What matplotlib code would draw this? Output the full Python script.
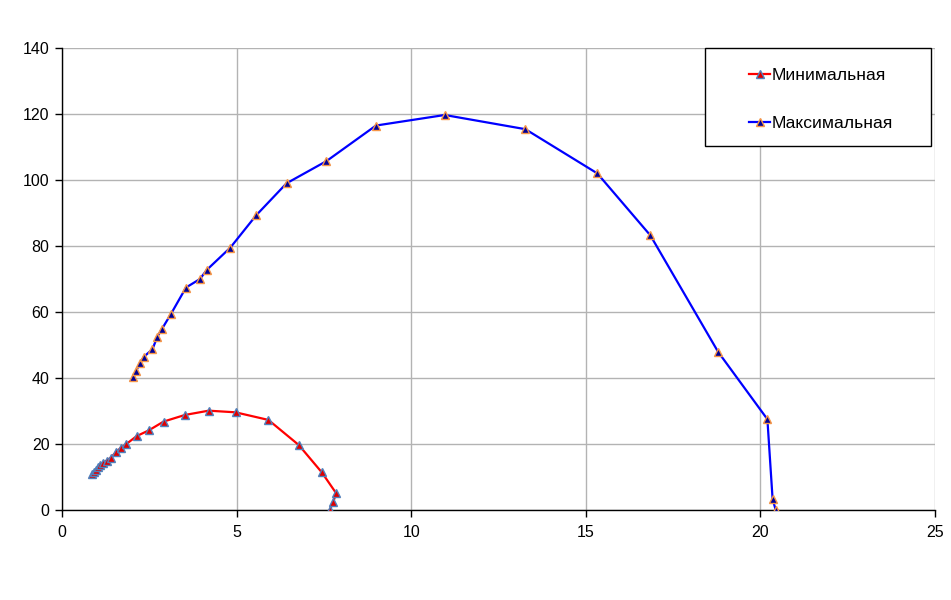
import matplotlib
matplotlib.use("Agg")
import matplotlib.pyplot as plt
from matplotlib.patches import Rectangle

plt.rcParams['font.family'] = ['Liberation Sans', 'DejaVu Sans']

min_x = [0.87, 0.92, 0.97, 1.03, 1.10, 1.18, 1.28, 1.39, 1.55, 1.68, 1.83, 2.14, 2.48, 2.91,
         3.52, 4.20, 4.97, 5.91, 6.78, 7.44, 7.85, 7.77, 7.67]
min_y = [10.9, 11.5, 12.2, 12.9, 13.6, 14.3, 15.0, 15.8, 17.6, 18.8, 19.9, 22.4, 24.1, 26.8,
         28.8, 30.1, 29.6, 27.3, 19.7, 11.4, 5.1, 2.5, 0.0]

max_x = [2.04, 2.12, 2.23, 2.35, 2.59, 2.73, 2.87, 3.12, 3.55, 3.95, 4.15, 4.82, 5.56, 6.43,
         7.57, 8.99, 10.96, 13.27, 15.33, 16.85, 18.79, 20.20, 20.35, 20.44]
max_y = [40.4, 42.1, 44.4, 46.5, 48.7, 52.5, 55.0, 59.4, 67.4, 70.0, 72.8, 79.5, 89.3, 99.0,
         105.7, 116.5, 119.7, 115.4, 102.0, 83.2, 47.9, 27.5, 3.2, 0.0]

labels = ["Минимальная", "Максимальная"]
x_ticks = [0, 5, 10, 15, 20, 25]
y_ticks = [0, 20, 40, 60, 80, 100, 120, 140]

fig = plt.figure(figsize=(9.51, 6.0), dpi=100)
ax = fig.add_axes([62/951, 1-510/600, (935-62)/951, (510-48)/600])

ax.plot(min_x, min_y, color='#ff0000', lw=1.6, marker='^', ms=6,
        mfc='#e00000', mec='#4f81bd', mew=1.0, label=labels[0], zorder=3)
ax.plot(max_x, max_y, color='#0000ff', lw=1.6, marker='^', ms=6,
        mfc='#000099', mec='#f79646', mew=1.0, label=labels[1], zorder=3)

ax.set_xlim(0, 25)
ax.set_ylim(0, 140)
ax.set_xticks(x_ticks)
ax.set_yticks(y_ticks)
ax.grid(True, color='#b3b3b3', lw=1.0)
ax.set_axisbelow(True)
for s in ['top', 'right']:
    ax.spines[s].set_visible(False)
for s in ['left', 'bottom']:
    ax.spines[s].set_color('black')
    ax.spines[s].set_linewidth(1.0)
ax.tick_params(axis='both', direction='out', length=5, width=1, labelsize=11.5,
               colors='black', pad=4)
ax.tick_params(axis='x', pad=6)

# legend frame drawn as a box, entries centered in it
bx0, by0, bw, bh = 0.7365, 0.788, 0.2585, 0.212
frame = Rectangle((bx0, by0), bw, bh, transform=ax.transAxes, facecolor='white',
                  edgecolor='black', lw=1.0, zorder=4, clip_on=False)
ax.add_patch(frame)
leg = ax.legend(loc='center', bbox_to_anchor=(bx0 + bw / 2 + 0.004, by0 + bh / 2 - 0.005),
                fontsize=12.6, frameon=False, handlelength=1.15, handletextpad=0.12,
                labelspacing=1.85, borderaxespad=0)
leg.set_zorder(5)

fig.savefig('out.png', dpi=100)
